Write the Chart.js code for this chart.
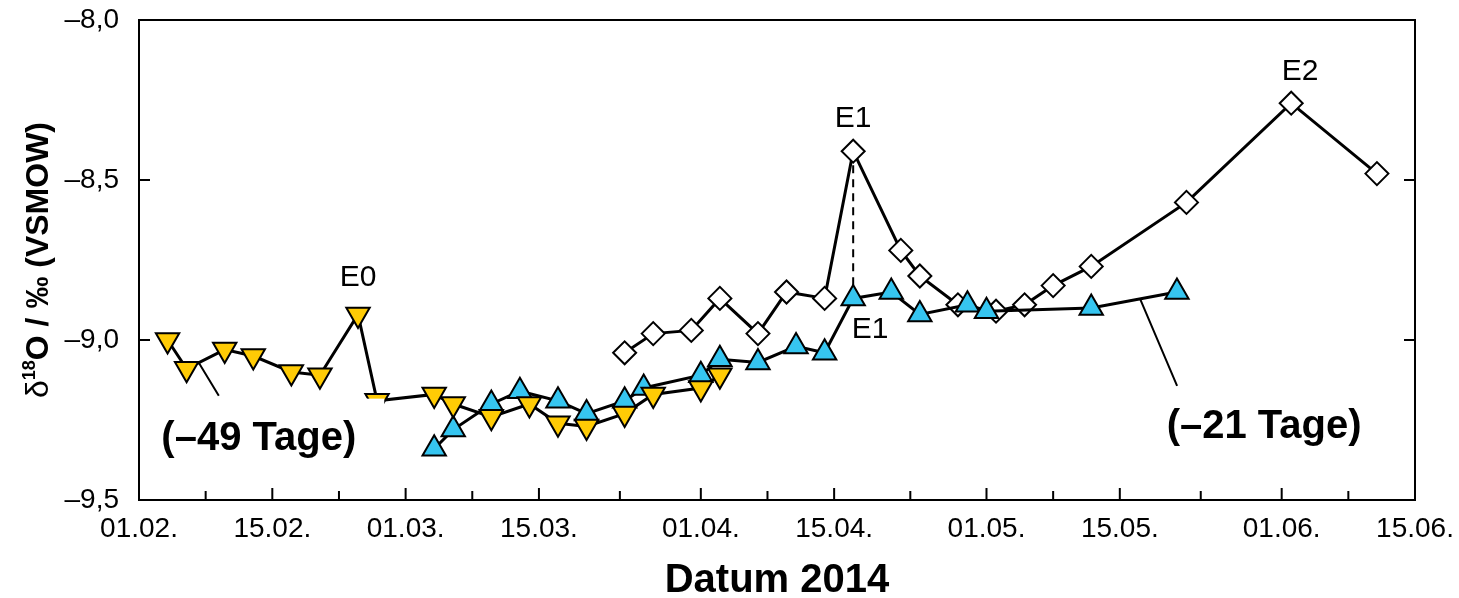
<!DOCTYPE html>
<html>
<head>
<meta charset="utf-8">
<script src="https://cdn.jsdelivr.net/npm/chart.js@4.4.1/dist/chart.umd.min.js"></script>
<style>
  html, body { margin: 0; padding: 0; background: #fff; }
  #wrap { width: 1459px; height: 598px; }
</style>
</head>
<body>
<div id="wrap"><canvas id="isoChart"></canvas></div>
<script>
// all dates are dd.mm. in 2014
const tickDates = ['01.02.', '15.02.', '01.03.', '15.03.', '01.04.', '15.04.', '01.05.', '15.05.', '01.06.', '15.06.'];
const yTicks = [-8.0, -8.5, -9.0, -9.5];

// series shifted by -49 days (yellow)
const shift49Dates = ['04.02.', '06.02.', '10.02.', '13.02.', '17.02.', '20.02.', '24.02.', '26.02.', '04.03.',
  '06.03.', '10.03.', '14.03.', '17.03.', '20.03.', '24.03.', '27.03.', '01.04.', '03.04.'];
const shift49Values = [-9.00, -9.09, -9.03, -9.05, -9.10, -9.11, -8.92, -9.19, -9.17,
  -9.20, -9.24, -9.20, -9.26, -9.27, -9.23, -9.17, -9.15, -9.11];

// series shifted by -21 days (blue)
const shift21Dates = ['04.03.', '06.03.', '10.03.', '13.03.', '17.03.', '20.03.', '24.03.', '26.03.', '01.04.', '03.04.',
  '07.04.', '11.04.', '14.04.', '17.04.', '21.04.', '24.04.', '29.04.', '01.05.', '12.05.', '21.05.'];
const shift21Values = [-9.34, -9.28, -9.20, -9.16, -9.19, -9.23, -9.19, -9.15, -9.11, -9.06,
  -9.07, -9.02, -9.04, -8.87, -8.85, -8.92, -8.89, -8.91, -8.90, -8.85];

// measured series (white diamonds)
const mainDates = ['24.03.', '27.03.', '31.03.', '03.04.', '07.04.', '10.04.', '14.04.', '17.04.', '22.04.',
  '24.04.', '28.04.', '02.05.', '05.05.', '08.05.', '12.05.', '22.05.', '02.06.', '11.06.'];
const mainValues = [-9.04, -8.98, -8.97, -8.87, -8.98, -8.85, -8.87, -8.41, -8.72,
  -8.80, -8.89, -8.91, -8.89, -8.83, -8.77, -8.57, -8.26, -8.48];

const FONT = '"Liberation Sans", Arial, sans-serif';

function dayOf(s) {
  const [d, m] = s.split('.').map(Number);
  return (Date.UTC(2014, m - 1, d) - Date.UTC(2014, 1, 1)) / 86400000;
}
const toPoints = (dates, values) => dates.map((d, i) => ({ x: dayOf(d), y: values[i] }));

const tickDays = tickDates.map(dayOf);
const minorDays = tickDays.slice(1).map((v, i) => (tickDays[i] + v) / 2);

// pixel position of a data point
function px(chart, dsIndex, i) {
  const p = chart.getDatasetMeta(dsIndex).data[i];
  return { x: p.x, y: p.y };
}

// point part way along a series segment
function along(chart, dsIndex, i, t) {
  const a = px(chart, dsIndex, i), b = px(chart, dsIndex, i + 1);
  return { x: a.x + (b.x - a.x) * t, y: a.y + (b.y - a.y) * t };
}

const decorations = {
  id: 'decorations',
  beforeDatasetsDraw(chart) {
    const { ctx, chartArea: a, scales } = chart;
    ctx.save();
    ctx.strokeStyle = '#000';
    ctx.lineWidth = 2;
    ctx.strokeRect(a.left, a.top, a.right - a.left, a.bottom - a.top);

    // inward tick marks
    ctx.beginPath();
    tickDays.forEach(d => {
      const x = scales.x.getPixelForValue(d);
      ctx.moveTo(x, a.bottom); ctx.lineTo(x, a.bottom - 12);
    });
    minorDays.forEach(d => {
      const x = scales.x.getPixelForValue(d);
      ctx.moveTo(x, a.bottom); ctx.lineTo(x, a.bottom - 9);
    });
    yTicks.slice(1, -1).forEach(v => {
      const y = scales.y.getPixelForValue(v);
      ctx.moveTo(a.left, y); ctx.lineTo(a.left + 11, y);
      ctx.moveTo(a.right, y); ctx.lineTo(a.right - 11, y);
    });
    ctx.stroke();

    // dashed link E1 -> E1
    const top = px(chart, 2, 7), bot = px(chart, 1, 13);
    ctx.setLineDash([8, 6]);
    ctx.beginPath();
    ctx.moveTo(top.x, top.y); ctx.lineTo(bot.x, bot.y);
    ctx.stroke();
    ctx.setLineDash([]);

    // leader lines to the shift labels
    const s49 = along(chart, 0, 1, 0.32);
    const s21 = along(chart, 1, 18, 0.57);
    ctx.beginPath();
    ctx.moveTo(s49.x, s49.y); ctx.lineTo(s49.x + 20, s49.y + 33);
    ctx.moveTo(s21.x, s21.y); ctx.lineTo(s21.x + 37, s21.y + 87);
    ctx.stroke();
    ctx.restore();
  },
  afterDatasetsDraw(chart) {
    const { ctx } = chart;
    ctx.save();
    ctx.fillStyle = '#000';
    ctx.textAlign = 'center';
    ctx.textBaseline = 'middle';

    // event labels
    ctx.font = '30px ' + FONT;
    const e0 = px(chart, 0, 6), e1 = px(chart, 2, 7), e1b = px(chart, 1, 13), e2 = px(chart, 2, 16);
    ctx.fillText('E0', e0.x, e0.y - 37);
    ctx.fillText('E1', e1.x, e1.y - 32);
    ctx.fillText('E1', e1b.x + 17, e1b.y + 31);
    ctx.fillText('E2', e2.x + 9, e2.y - 31);

    // shift labels with white backing
    ctx.font = 'bold 40px ' + FONT;
    const s49 = along(chart, 0, 1, 0.32);
    const s21 = along(chart, 1, 18, 0.57);
    [['(–49 Tage)', s49.x + 60, s49.y + 76], ['(–21 Tage)', s21.x + 124, s21.y + 128]].forEach(([t, x, y]) => {
      const w = ctx.measureText(t).width;
      ctx.fillStyle = '#fff';
      ctx.fillRect(x - w / 2 - 8, y - 40, w + 36, 72);
      ctx.fillStyle = '#000';
      ctx.fillText(t, x, y);
    });
    ctx.restore();
  },
  afterDraw(chart) {
    const { ctx, chartArea: a } = chart;
    ctx.save();
    ctx.fillStyle = '#000';
    // x title
    ctx.font = 'bold 40px ' + FONT;
    ctx.textAlign = 'center';
    ctx.textBaseline = 'alphabetic';
    ctx.fillText('Datum 2014', (a.left + a.right) / 2, 592);

    // y title with superscript 18
    const parts = [
      { t: 'δ', f: '32px ' + FONT, dy: 0 },
      { t: '18', f: 'bold 18px ' + FONT, dy: -13 },
      { t: 'O / ‰ (VSMOW)', f: 'bold 32px ' + FONT, dy: 0 }
    ];
    let total = 0;
    parts.forEach(p => { ctx.font = p.f; p.w = ctx.measureText(p.t).width; total += p.w; });
    ctx.translate(48, (a.top + a.bottom) / 2);
    ctx.rotate(-Math.PI / 2);
    ctx.textAlign = 'left';
    let x = -total / 2;
    parts.forEach(p => { ctx.font = p.f; ctx.fillText(p.t, x, p.dy); x += p.w; });
    ctx.restore();
  }
};

const lineStyle = {
  borderColor: '#000',
  borderWidth: 3,
  tension: 0,
  pointBorderColor: '#000',
  pointBorderWidth: 2,
  pointHoverRadius: 13
};

const ctx = document.getElementById('isoChart').getContext('2d');
const isoChart = new Chart(ctx, {
  type: 'line',
  data: {
    datasets: [
      {
        ...lineStyle,
        label: '–49 Tage',
        data: toPoints(shift49Dates, shift49Values),
        pointStyle: 'triangle',
        rotation: 180,
        radius: 13.5,
        pointBackgroundColor: '#FFCB05'
      },
      {
        ...lineStyle,
        label: '–21 Tage',
        data: toPoints(shift21Dates, shift21Values),
        pointStyle: 'triangle',
        radius: 13.5,
        pointBackgroundColor: '#36C5F0'
      },
      {
        ...lineStyle,
        label: 'gemessen',
        data: toPoints(mainDates, mainValues),
        pointStyle: 'rectRot',
        radius: 11.5,
        pointBackgroundColor: '#fff'
      }
    ]
  },
  options: {
    responsive: true,
    maintainAspectRatio: false,
    animation: false,
    layout: { padding: { top: 20, right: 44, left: 0, bottom: 0 } },
    plugins: {
      legend: { display: false },
      tooltip: { enabled: false }
    },
    scales: {
      x: {
        type: 'linear',
        min: tickDays[0],
        max: tickDays[tickDays.length - 1],
        afterBuildTicks: s => { s.ticks = tickDays.map(v => ({ value: v })); },
        afterFit: s => { s.height = 98; s.paddingLeft = 0; s.paddingRight = 0; },
        grid: { display: false, drawTicks: false },
        border: { display: false },
        ticks: {
          autoSkip: false,
          maxRotation: 0,
          padding: 12,
          color: '#000',
          font: { family: FONT, size: 28 },
          callback: (v, i) => tickDates[i]
        }
      },
      y: {
        min: -9.5,
        max: -8.0,
        afterBuildTicks: s => { s.ticks = yTicks.map(v => ({ value: v })); },
        afterFit: s => { s.width = 139; s.paddingTop = 0; s.paddingBottom = 0; },
        grid: { display: false, drawTicks: false },
        border: { display: false },
        ticks: {
          padding: 20,
          color: '#000',
          font: { family: FONT, size: 28 },
          callback: v => '–' + Math.abs(v).toFixed(1).replace('.', ',')
        }
      }
    }
  },
  plugins: [decorations]
});
</script>
</body>
</html>
